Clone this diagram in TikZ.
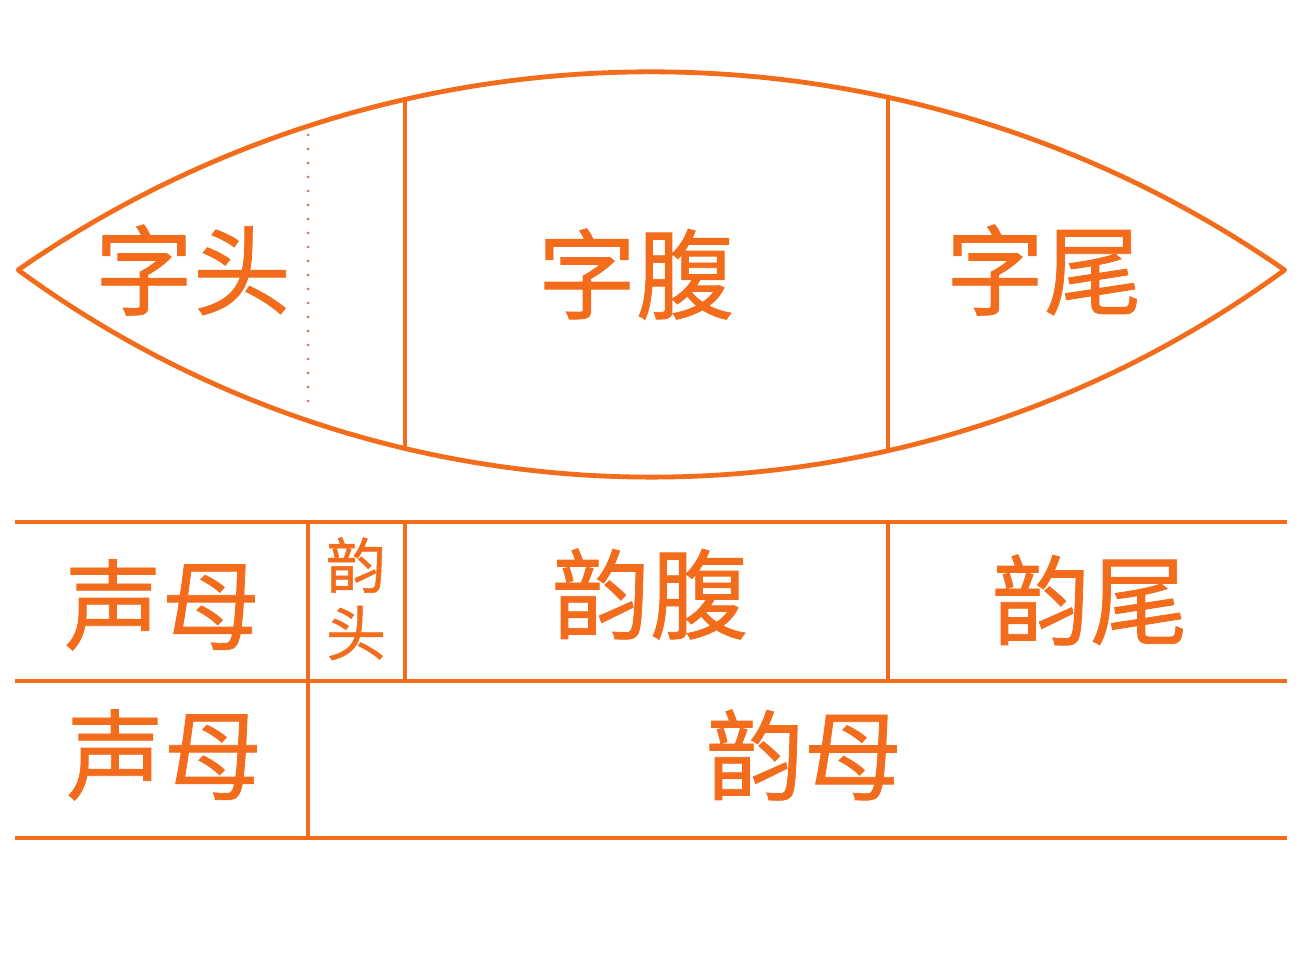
\documentclass[tikz,border=0pt]{standalone}
\usepackage{fontspec}
\newfontfamily\cjk{Noto Sans CJK SC}[FakeBold=0.8]
\usepackage{tikz}
\definecolor{boatorange}{RGB}{242,108,28}
\definecolor{dotred}{RGB}{214,112,92}

\begin{document}
\begin{tikzpicture}[x=0.5pt,y=-0.5pt,
			every node/.style={inner sep=0pt,text=boatorange},
			big/.style={font=\cjk\fontsize{49}{49}\selectfont},
			small/.style={font=\cjk\fontsize{30}{30}\selectfont},
			edge/.style={draw=boatorange,line width=2.4pt,line join=round},
			rule/.style={draw=boatorange,line width=1.7pt}]
			\useasboundingbox (0,0) rectangle (1300,978);
			
			% lens
			\coordinate (tipL) at (18,270);
			\coordinate (tipR) at (1285,270);
			\draw[edge] (tipL) arc[start angle=-124.76,end angle=-55.24,radius=1110.8]
				arc[start angle=53.77,end angle=126.23,radius=1071.4] -- cycle;
			\draw[rule] (405,100) -- (405,448);
			\draw[rule] (888,98) -- (888,450);
			\draw[draw=dotred,line width=1.5pt,line cap=round,dash pattern=on 0pt off 7pt] (308,135) -- (308,410);
			
			\node[big] (zitou) at (193,270) {字头};
			\node[big] (zifu) at (636,274) {字腹};
			\node[big] (ziwei) at (1044,270) {字尾};
			
			% table
			\coordinate (r1l) at (15,522);  \coordinate (r1r) at (1287,522);
			\coordinate (r2l) at (15,681);  \coordinate (r2r) at (1287,681);
			\coordinate (r3l) at (15,838);  \coordinate (r3r) at (1287,838);
			\draw[rule] (r1l) -- (r1r);
			\draw[rule] (r2l) -- (r2r);
			\draw[rule] (r3l) -- (r3r);
			\draw[rule] (308,522) -- (308,838);
			\draw[rule] (405,522) -- (405,681);
			\draw[rule] (888,522) -- (888,681);
			
			\node[big] (shengmuA) at (162,605) {声母};
			\node[small] (yun) at (356,565) {韵};
			\node[small] (tou) at (356,633) {头};
			\node[big] (yunfu) at (650,594) {韵腹};
			\node[big] (yunwei) at (1090,600) {韵尾};
			\node[big] (shengmuB) at (164,755) {声母};
			\node[big] (yunmu) at (804,755) {韵母};
		\end{tikzpicture}
\end{document}
